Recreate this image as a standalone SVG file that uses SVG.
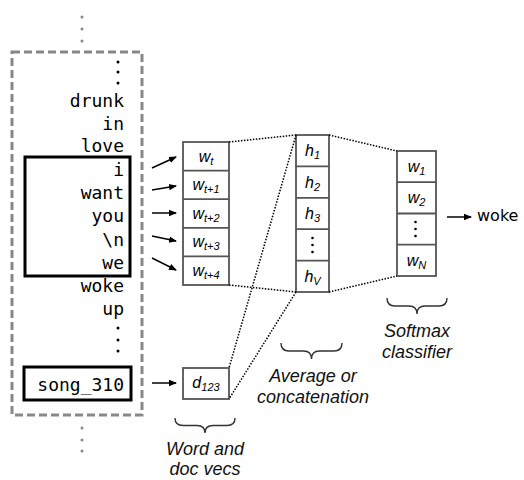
<svg xmlns="http://www.w3.org/2000/svg" width="524" height="480" viewBox="0 0 524 480">
<defs>
<marker id="ah" markerWidth="8" markerHeight="8" refX="7" refY="4" orient="auto" markerUnits="userSpaceOnUse">
<path d="M0,0.8 L8,4 L0,7.2 Z" fill="#000"/>
</marker>
<style>
.mono{font-family:"DejaVu Sans Mono","Liberation Mono",monospace;font-size:18px;fill:#000;text-anchor:end}
.vec{fill:#fff;stroke:#555;stroke-width:1.8}
.div{stroke:#555;stroke-width:1.8}
.lab{font-family:"Liberation Sans",Arial,sans-serif;font-style:italic;font-size:16px;fill:#000;text-anchor:middle}
.sub{font-size:11px}
.arr{stroke:#000;stroke-width:1.5;fill:none;marker-end:url(#ah)}
.dot{stroke:#000;stroke-width:1.5;stroke-dasharray:1.5 1.5;fill:none}
.brace{stroke:#333;stroke-width:1.4;fill:none}
.cap{font-family:"Liberation Sans",Arial,sans-serif;font-style:italic;font-size:18px;fill:#111;text-anchor:middle}
.gd{fill:#888}
.bd{fill:#000}
</style>
</defs>
<rect width="524" height="480" fill="#fff"/>

<g id="corpus">
<circle class="gd" cx="82" cy="17" r="1.5"/>
<circle class="gd" cx="82" cy="29" r="1.5"/>
<circle class="gd" cx="82" cy="41" r="1.5"/>
<rect x="12" y="52" width="130" height="363" fill="none" stroke="#888" stroke-width="3" stroke-dasharray="8 4"/>
<circle class="gd" cx="82" cy="428" r="1.5"/>
<circle class="gd" cx="82" cy="440" r="1.5"/>
<circle class="gd" cx="82" cy="451" r="1.5"/>
<circle class="bd" cx="118" cy="62" r="1.5"/>
<circle class="bd" cx="118" cy="72" r="1.5"/>
<circle class="bd" cx="118" cy="83" r="1.5"/>
<text class="mono" x="124" y="107">drunk</text>
<text class="mono" x="124" y="129.5">in</text>
<text class="mono" x="124" y="152">love</text>
<text class="mono" x="124" y="176">i</text>
<text class="mono" x="124" y="199">want</text>
<text class="mono" x="124" y="222">you</text>
<text class="mono" x="124" y="245.5">\n</text>
<text class="mono" x="124" y="269">we</text>
<text class="mono" x="124" y="292">woke</text>
<text class="mono" x="124" y="315">up</text>
<circle class="bd" cx="118" cy="328" r="1.5"/>
<circle class="bd" cx="118" cy="340" r="1.5"/>
<circle class="bd" cx="118" cy="351" r="1.5"/>
</g>

<g id="window">
<rect x="25" y="157" width="105" height="119" fill="none" stroke="#000" stroke-width="3"/>
</g>

<g id="song">
<rect x="24" y="367" width="107" height="33" fill="none" stroke="#000" stroke-width="3"/>
<text class="mono" x="124" y="391">song_310</text>
</g>

<g id="wordvecs">
<rect class="vec" x="183" y="142" width="46" height="143"/>
<line class="div" x1="183" y1="170.6" x2="229" y2="170.6"/>
<line class="div" x1="183" y1="199.2" x2="229" y2="199.2"/>
<line class="div" x1="183" y1="227.8" x2="229" y2="227.8"/>
<line class="div" x1="183" y1="256.4" x2="229" y2="256.4"/>
<text class="lab" x="206" y="161.5">w<tspan class="sub" dy="3">t</tspan></text>
<text class="lab" x="206" y="190">w<tspan class="sub" dy="3">t+1</tspan></text>
<text class="lab" x="206" y="218.5">w<tspan class="sub" dy="3">t+2</tspan></text>
<text class="lab" x="206" y="247">w<tspan class="sub" dy="3">t+3</tspan></text>
<text class="lab" x="206" y="275.5">w<tspan class="sub" dy="3">t+4</tspan></text>
</g>

<g id="docvec">
<rect class="vec" x="183" y="368" width="46" height="31"/>
<text class="lab" x="206" y="388">d<tspan class="sub" dy="3">123</tspan></text>
</g>

<g id="hidden">
<rect class="vec" x="296" y="135" width="33" height="157"/>
<line class="div" x1="296" y1="166.4" x2="329" y2="166.4"/>
<line class="div" x1="296" y1="197.8" x2="329" y2="197.8"/>
<line class="div" x1="296" y1="229.2" x2="329" y2="229.2"/>
<line class="div" x1="296" y1="260.6" x2="329" y2="260.6"/>
<text class="lab" x="312.5" y="156">h<tspan class="sub" dy="3">1</tspan></text>
<text class="lab" x="312.5" y="187.5">h<tspan class="sub" dy="3">2</tspan></text>
<text class="lab" x="312.5" y="219">h<tspan class="sub" dy="3">3</tspan></text>
<circle class="bd" cx="312.5" cy="238" r="1.3"/>
<circle class="bd" cx="312.5" cy="245" r="1.3"/>
<circle class="bd" cx="312.5" cy="252" r="1.3"/>
<text class="lab" x="312.5" y="281.5">h<tspan class="sub" dy="3">V</tspan></text>
</g>

<g id="softmax">
<rect class="vec" x="397" y="151" width="39" height="125"/>
<line class="div" x1="397" y1="182.2" x2="436" y2="182.2"/>
<line class="div" x1="397" y1="213.5" x2="436" y2="213.5"/>
<line class="div" x1="397" y1="244.7" x2="436" y2="244.7"/>
<text class="lab" x="416.5" y="172">w<tspan class="sub" dy="3">1</tspan></text>
<text class="lab" x="416.5" y="203">w<tspan class="sub" dy="3">2</tspan></text>
<circle class="bd" cx="415.5" cy="222" r="1.3"/>
<circle class="bd" cx="415.5" cy="229" r="1.3"/>
<circle class="bd" cx="415.5" cy="236" r="1.3"/>
<text class="lab" x="416.5" y="265.5">w<tspan class="sub" dy="3">N</tspan></text>
</g>

<g id="output">
<text x="477" y="220.5" font-family="'DejaVu Sans',Verdana,sans-serif" font-size="16" fill="#000">woke</text>
</g>

<g id="connectors">
<line class="arr" x1="152" y1="168" x2="176" y2="157"/>
<line class="arr" x1="152" y1="190" x2="176" y2="186"/>
<line class="arr" x1="152" y1="213" x2="176" y2="213"/>
<line class="arr" x1="152" y1="236" x2="176" y2="241"/>
<line class="arr" x1="152" y1="258" x2="176" y2="270"/>
<line class="arr" x1="152" y1="383" x2="176" y2="383"/>
<line class="arr" x1="447" y1="217" x2="471" y2="217"/>
<line class="dot" x1="229" y1="142" x2="296" y2="135"/>
<line class="dot" x1="229" y1="285" x2="296" y2="292"/>
<line class="dot" x1="296" y1="135" x2="229" y2="368"/>
<line class="dot" x1="296" y1="292" x2="229" y2="399"/>
<line class="dot" x1="329" y1="135" x2="397" y2="151"/>
<line class="dot" x1="329" y1="292" x2="397" y2="276"/>
</g>

<g id="captions">
<path class="brace" d="M175,418 Q175,425.5 183,425.5 L197,425.5 Q205,425.5 205,433 Q205,425.5 213,425.5 L227,425.5 Q235,425.5 235,418"/>
<text class="cap" x="205" y="455">Word and</text>
<text class="cap" x="205" y="475">doc vecs</text>
<path class="brace" d="M281,343 Q281,351 289,351 L303.5,351 Q311.5,351 311.5,359 Q311.5,351 319.5,351 L334,351 Q342,351 342,343"/>
<text class="cap" x="313" y="382">Average or</text>
<text class="cap" x="313" y="402.5">concatenation</text>
<path class="brace" d="M387,298 Q387,306 395,306 L409,306 Q417,306 417,314 Q417,306 425,306 L439,306 Q447,306 447,298"/>
<text class="cap" x="417" y="337">Softmax</text>
<text class="cap" x="417" y="358">classifier</text>
</g>
</svg>
